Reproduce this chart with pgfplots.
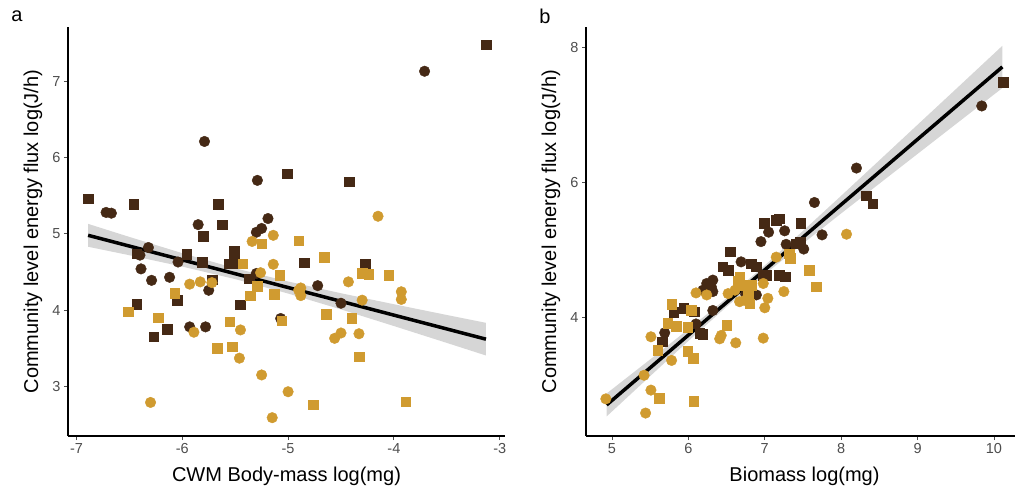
\documentclass[border=0pt]{standalone}
\usepackage{fontspec}
\setmainfont{Liberation Sans}
\usepackage{pgfplots}
\pgfplotsset{compat=1.18}
\definecolor{dk}{HTML}{452915}
\definecolor{gd}{HTML}{D09B30}
\definecolor{band}{HTML}{D6D6D6}
\definecolor{tk}{HTML}{4D4D4D}
\pgfplotsset{
  panel/.style={
    scale only axis, width=437pt, height=409pt,
    axis x line*=bottom, axis y line*=left,
    axis line style={-, line width=1.1pt, black},
    tick align=outside, major tick length=4pt,
    every tick/.style={line width=0.9pt, color=tk},
    tick label style={font=\fontsize{14.5}{14.5}\selectfont, text=tk},
    /pgf/number format/assume math mode=true,
    every axis x label/.style={at={([yshift=-40pt]axis description cs:0.5,0)}, anchor=center, font=\fontsize{20}{20}\selectfont},
    every axis y label/.style={at={([xshift=-35pt]axis description cs:0,0.5)}, anchor=center, rotate=90, font=\fontsize{20}{20}\selectfont},
    ylabel={Community level energy flux log(J/h)},
  },
  dkc/.style={only marks, mark=*, mark size=5.3pt, color=dk},
  dks/.style={only marks, mark=square*, mark size=4.8pt, color=dk},
  gdc/.style={only marks, mark=*, mark size=5.3pt, color=gd},
  gds/.style={only marks, mark=square*, mark size=4.8pt, color=gd},
}
\begin{document}
\begin{tikzpicture}
\useasboundingbox (-68pt,-57pt) rectangle (947pt,436pt);
% ---------------- panel a
\begin{axis}[panel, name=pa, at={(0pt,0pt)}, anchor=south west,
  xmin=-7.08, xmax=-2.95, ymin=2.35, ymax=7.71,
  xtick={-7,-6,-5,-4,-3}, ytick={3,4,5,6,7},
  xlabel={CWM Body-mass log(mg)}]
\addplot[draw=none, fill=band] coordinates {
 (-6.89,5.13) (-6.5,4.959) (-6,4.746) (-5.5,4.548) (-5,4.375) (-4.5,4.221) (-4,4.077) (-3.5,3.936) (-3.13,3.833)
 (-3.13,3.405) (-3.5,3.570) (-4,3.791) (-4.5,4.009) (-5,4.217) (-5.5,4.406) (-6,4.570) (-6.5,4.719) (-6.89,4.83)} -- cycle;
\addplot[black, line width=3.5pt] coordinates {
 (-6.89,4.98) (-6.5,4.839) (-6,4.658) (-5.5,4.477) (-5,4.296) (-4.5,4.115) (-4,3.934) (-3.5,3.753) (-3.13,3.619)};
\addplot[dks] coordinates {
 (-6.89,5.46) (-6.46,5.39) (-5.01,5.79) (-5.66,5.39) (-5.62,5.12) (-5.80,4.97) (-3.13,7.48) (-4.42,5.68)
 (-6.43,4.74) (-5.96,4.73) (-5.81,4.63) (-5.51,4.78) (-5.51,4.74) (-5.56,4.61) (-5.46,4.61) (-5.37,4.41)
 (-5.72,4.40) (-6.05,4.13) (-6.43,4.08) (-5.45,4.07) (-6.14,3.75) (-6.27,3.65) (-4.85,4.62) (-4.27,4.60)};
\addplot[dkc] coordinates {
 (-6.72,5.28) (-6.67,5.27) (-5.79,6.21) (-5.29,5.70) (-5.85,5.12) (-5.19,5.20) (-5.25,5.07) (-5.30,5.02)
 (-3.71,7.13) (-6.32,4.82) (-6.40,4.72) (-6.04,4.63) (-6.39,4.54) (-5.30,4.48) (-6.29,4.39) (-6.12,4.43)
 (-5.75,4.26) (-5.07,3.89) (-5.93,3.78) (-5.78,3.78) (-4.72,4.32) (-4.50,4.09)};
\addplot[gds] coordinates {
 (-4.90,4.91) (-5.25,4.87) (-5.43,4.61) (-5.08,4.46) (-5.29,4.31) (-6.07,4.22) (-5.36,4.19) (-5.13,4.21)
 (-6.51,3.98) (-6.23,3.90) (-5.06,3.86) (-5.55,3.85) (-5.67,3.50) (-5.53,3.52) (-4.66,4.69) (-4.30,4.48)
 (-4.24,4.47) (-4.05,4.46) (-4.64,3.95) (-4.40,3.89) (-4.33,3.39) (-4.76,2.76) (-3.89,2.80)};
\addplot[gdc] coordinates {
 (-5.14,4.98) (-5.34,4.90) (-4.15,5.23) (-5.14,4.60) (-5.26,4.49) (-5.93,4.34) (-5.83,4.37) (-5.72,4.36)
 (-4.90,4.26) (-5.89,3.71) (-5.45,3.74) (-5.46,3.37) (-5.25,3.15) (-5.00,2.93) (-6.30,2.79) (-5.15,2.59)
 (-4.43,4.37) (-4.88,4.29) (-4.88,4.19) (-3.93,4.24) (-3.93,4.14) (-4.30,4.13) (-4.50,3.70) (-4.56,3.63)
 (-4.33,3.69)};
\end{axis}
\node[font=\fontsize{20}{20}\selectfont] at ([xshift=-51pt,yshift=11pt]pa.north west) {a};
% ---------------- panel b
\begin{axis}[panel, name=pb, at={(518pt,0pt)}, anchor=south west,
  xmin=4.66, xmax=10.38, ymin=2.25, ymax=8.31,
  xtick={5,6,7,8,9,10}, ytick={4,6,8},
  xlabel={Biomass log(mg)}]
\addplot[draw=none, fill=band] coordinates {
 (4.93,2.88) (5.5,3.385) (6,3.832) (6.5,4.291) (7,4.778) (7.5,5.289) (8,5.810) (8.5,6.335) (9,6.862) (9.5,7.388) (10.11,8.032)
 (10.11,7.406) (9.5,6.870) (9,6.430) (8.5,5.989) (8,5.548) (7.5,5.101) (7,4.646) (6.5,4.165) (6,3.658) (5.5,3.137) (4.93,2.54)} -- cycle;
\addplot[black, line width=3.5pt] coordinates {
 (4.93,2.71) (5.5,3.261) (6,3.745) (6.5,4.228) (7,4.712) (7.5,5.195) (8,5.679) (8.5,6.162) (9,6.646) (9.5,7.129) (10.11,7.719)};
\addplot[dks] coordinates {
 (10.12,7.49) (8.33,5.81) (8.41,5.69) (7.47,5.40) (7.19,5.47) (7.15,5.45) (6.99,5.40) (7.46,5.13)
 (7.41,5.10) (6.55,4.98) (6.45,4.76) (6.52,4.71) (6.82,4.80) (6.89,4.76) (6.98,4.63) (7.02,4.63)
 (7.19,4.63) (7.27,4.61) (5.81,4.08) (5.94,4.14) (6.08,4.09) (6.15,3.77) (6.19,3.76) (5.66,3.65)};
\addplot[dkc] coordinates {
 (9.84,7.14) (8.20,6.22) (7.65,5.71) (7.26,5.29) (7.75,5.23) (7.05,5.27) (6.95,5.13) (7.28,5.09)
 (7.51,5.02) (6.69,4.83) (6.32,4.56) (6.24,4.51) (6.30,4.46) (6.32,4.39) (6.19,4.41) (6.89,4.34)
 (6.32,4.11) (6.10,3.91) (5.69,3.78) (6.75,4.35)};
\addplot[gds] coordinates {
 (7.32,4.95) (7.33,4.88) (7.58,4.71) (7.67,4.46) (6.67,4.61) (6.69,4.48) (6.82,4.48) (6.80,4.21)
 (5.78,4.20) (6.04,4.11) (5.73,3.92) (5.84,3.88) (5.99,3.86) (6.50,3.89) (5.60,3.52) (5.99,3.51)
 (6.06,3.40) (5.62,2.81) (6.07,2.77) (6.65,4.55) (6.78,4.35)};
\addplot[gdc] coordinates {
 (8.07,5.24) (7.15,4.90) (7.25,4.39) (6.61,4.41) (6.74,4.26) (6.67,4.24) (6.98,4.51) (7.04,4.29)
 (7.00,4.15) (6.52,4.36) (6.10,4.37) (6.24,4.34) (5.51,3.72) (6.43,3.74) (6.41,3.69) (6.62,3.63)
 (6.98,3.70) (5.78,3.37) (5.42,3.15) (5.51,2.93) (4.92,2.80) (5.44,2.59)};
\end{axis}
\node[font=\fontsize{20}{20}\selectfont] at ([xshift=-41pt,yshift=11pt]pb.north west) {b};
\end{tikzpicture}
\end{document}
